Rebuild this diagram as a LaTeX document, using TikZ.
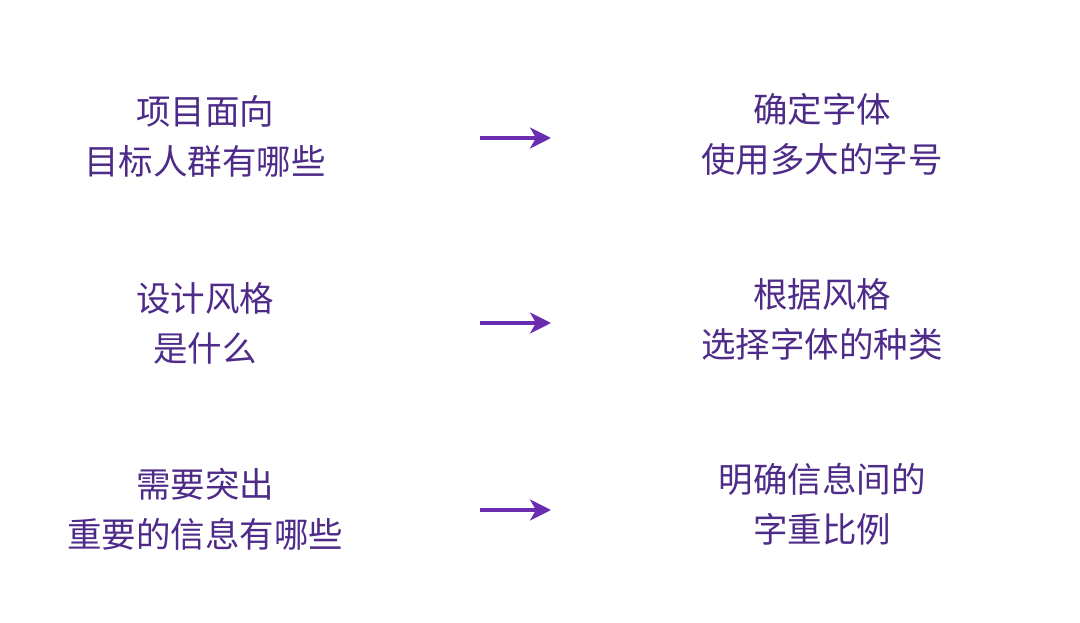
\documentclass[tikz,border=0pt]{standalone}
\usepackage{fontspec}
\setmainfont{Noto Sans CJK SC}
\usetikzlibrary{arrows.meta}
\definecolor{txtpurple}{HTML}{4E2B88}
\definecolor{arrpurple}{HTML}{6A2DB0}
\begin{document}
\begin{tikzpicture}[x=1pt,y=1pt,
  lbl/.style={align=center,inner sep=0pt,text=txtpurple,font=\fontsize{34.5}{50}\selectfont},
  arr/.style={draw=arrpurple,line width=3.5pt,-{Stealth[length=21pt,width=21pt,inset=6pt]}}]
\useasboundingbox[fill=white] (0,0) rectangle (1080,622);
\node[lbl] (l1) at (205,486) {项目面向\\目标人群有哪些};
\node[lbl] (r1) at (822,488) {确定字体\\使用多大的字号};
\node[lbl] (l2) at (205,299) {设计风格\\是什么};
\node[lbl] (r2) at (822,303) {根据风格\\选择字体的种类};
\node[lbl] (l3) at (205,113) {需要突出\\重要的信息有哪些};
\node[lbl] (r3) at (822,118) {明确信息间的\\字重比例};
\coordinate (a1s) at (480,484); \coordinate (a1e) at (551,484);
\coordinate (a2s) at (480,299); \coordinate (a2e) at (551,299);
\coordinate (a3s) at (480,112); \coordinate (a3e) at (551,112);
\draw[arr] (a1s) -- (a1e);
\draw[arr] (a2s) -- (a2e);
\draw[arr] (a3s) -- (a3e);
\end{tikzpicture}
\end{document}
